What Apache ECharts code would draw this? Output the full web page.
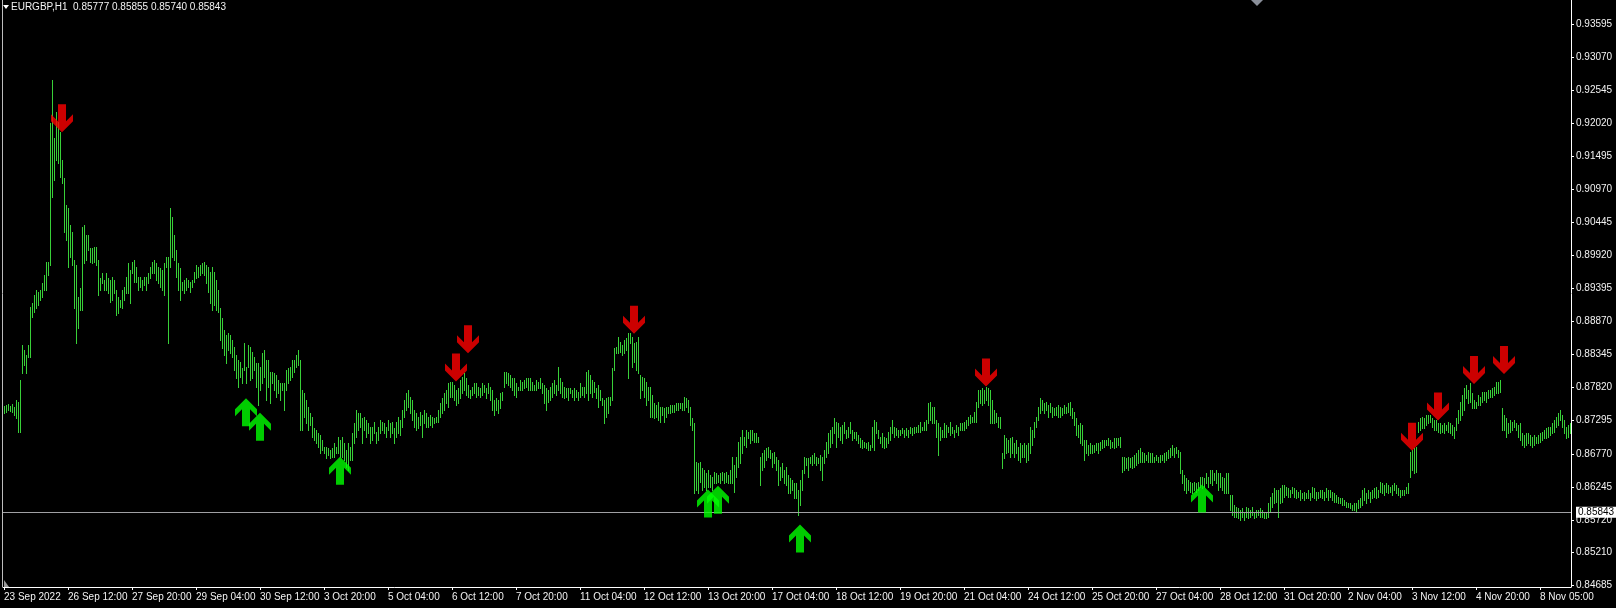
<!DOCTYPE html>
<html><head><meta charset="utf-8">
<script src="https://cdn.jsdelivr.net/npm/echarts@6/dist/echarts.min.js"></script>
<style>html,body{margin:0;padding:0;background:#000;}#c{width:1616px;height:608px;}</style>
</head><body><div id="c"></div>
<script>
const symbolName = 'EURGBP,H1';
const headerOHLC = ['0.85777', '0.85855', '0.85740', '0.85843'];
const bidPrice = 0.85843;
const labelEvery = 32;
const xTickLabels = ['23 Sep 2022','26 Sep 12:00','27 Sep 20:00','29 Sep 04:00','30 Sep 12:00','3 Oct 20:00','5 Oct 04:00','6 Oct 12:00','7 Oct 20:00','11 Oct 04:00','12 Oct 12:00','13 Oct 20:00','17 Oct 04:00','18 Oct 12:00','19 Oct 20:00','21 Oct 04:00','24 Oct 12:00','25 Oct 20:00','27 Oct 04:00','28 Oct 12:00','31 Oct 20:00','2 Nov 04:00','3 Nov 12:00','4 Nov 20:00','8 Nov 05:00'];
const yTicks = [0.93595,0.93070,0.92545,0.92020,0.91495,0.90970,0.90445,0.89920,0.89395,0.88870,0.88345,0.87820,0.87295,0.86770,0.86245,0.85720,0.85210,0.84685];

const highs = [
0.8753,0.8754,0.8756,0.8753,0.8756,0.8751,0.8762,0.8759,0.8794,0.8850,
0.8842,0.8834,0.8850,0.8910,0.8916,0.8929,0.8937,0.8934,0.8937,0.8948,
0.8961,0.8981,0.8981,0.9202,0.9271,0.9179,0.9220,0.9204,0.9188,0.9144,
0.9115,0.9072,0.9067,0.9040,0.9029,0.8985,0.8977,0.8926,0.8940,0.9037,
0.9040,0.9024,0.9024,0.9004,0.9004,0.9005,0.9005,0.8985,0.8956,0.8964,
0.8953,0.8964,0.8956,0.8953,0.8958,0.8953,0.8937,0.8926,0.8921,0.8937,
0.8942,0.8958,0.8980,0.8969,0.8981,0.8985,0.8974,0.8958,0.8958,0.8953,
0.8958,0.8958,0.8964,0.8974,0.8981,0.8985,0.8980,0.8974,0.8972,0.8969,
0.8980,0.8989,0.8989,0.9067,0.9053,0.9024,0.9001,0.8980,0.8972,0.8950,
0.8953,0.8956,0.8953,0.8950,0.8953,0.8966,0.8977,0.8974,0.8977,0.8980,
0.8981,0.8977,0.8974,0.8966,0.8974,0.8966,0.8953,0.8937,0.8908,0.8892,
0.8874,0.8866,0.8869,0.8866,0.8858,0.8846,0.8834,0.8826,0.8823,0.8813,
0.8853,0.8815,0.8850,0.8846,0.8838,0.8831,0.8821,0.8821,0.8815,0.8837,
0.8842,0.8826,0.8826,0.8807,0.8807,0.8805,0.8802,0.8794,0.8789,0.8789,
0.8789,0.8810,0.8813,0.8815,0.8826,0.8826,0.8834,0.8842,0.8826,0.8778,
0.8773,0.8762,0.8751,0.8742,0.8735,0.8718,0.8715,0.8710,0.8707,0.8699,
0.8688,0.8688,0.8686,0.8683,0.8686,0.8694,0.8688,0.8704,0.8699,0.8704,
0.8694,0.8683,0.8694,0.8688,0.8710,0.8726,0.8747,0.8742,0.8742,0.8734,
0.8735,0.8731,0.8726,0.8720,0.8720,0.8728,0.8712,0.8720,0.8731,0.8728,
0.8726,0.8720,0.8731,0.8726,0.8728,0.8718,0.8728,0.8735,0.8731,0.8747,
0.8762,0.8773,0.8778,0.8767,0.8762,0.8747,0.8742,0.8735,0.8743,0.8739,
0.8747,0.8742,0.8735,0.8739,0.8735,0.8734,0.8735,0.8747,0.8757,0.8765,
0.8773,0.8778,0.8789,0.8791,0.8791,0.8786,0.8778,0.8781,0.8794,0.8799,
0.8805,0.8797,0.8786,0.8778,0.8783,0.8789,0.8789,0.8783,0.8781,0.8789,
0.8786,0.8781,0.8789,0.8783,0.8778,0.8762,0.8765,0.8762,0.8773,0.8775,
0.8807,0.8807,0.8805,0.8802,0.8797,0.8797,0.8789,0.8783,0.8794,0.8791,
0.8794,0.8797,0.8797,0.8797,0.8791,0.8786,0.8794,0.8791,0.8797,0.8789,
0.8786,0.8781,0.8778,0.8783,0.8789,0.8794,0.8786,0.8815,0.8797,0.8791,
0.8783,0.8781,0.8781,0.8781,0.8778,0.8781,0.8778,0.8775,0.8789,0.8783,
0.8783,0.8807,0.8810,0.8802,0.8794,0.8791,0.8781,0.8786,0.8778,0.8765,
0.8762,0.8765,0.8767,0.8767,0.8813,0.8845,0.8846,0.8862,0.8854,0.8850,
0.8858,0.8861,0.8869,0.8869,0.8862,0.8853,0.8854,0.8862,0.8802,0.8799,
0.8797,0.8791,0.8783,0.8783,0.8770,0.8757,0.8754,0.8759,0.8751,0.8751,
0.8750,0.8751,0.8751,0.8754,0.8754,0.8754,0.8757,0.8757,0.8757,0.8757,
0.8767,0.8765,0.8762,0.8751,0.8734,0.8726,0.8664,0.8662,0.8664,0.8654,
0.8651,0.8646,0.8651,0.8643,0.8640,0.8648,0.8646,0.8643,0.8646,0.8648,
0.8646,0.8648,0.8643,0.8651,0.8672,0.8659,0.8672,0.8696,0.8704,0.8715,
0.8704,0.8715,0.8712,0.8715,0.8715,0.8710,0.8710,0.8704,0.8672,0.8678,
0.8683,0.8686,0.8688,0.8683,0.8678,0.8680,0.8672,0.8667,0.8656,0.8662,
0.8651,0.8656,0.8643,0.8638,0.8635,0.8630,0.8630,0.8620,0.8635,0.8651,
0.8672,0.8670,0.8670,0.8672,0.8675,0.8678,0.8672,0.8670,0.8675,0.8672,
0.8683,0.8696,0.8710,0.8715,0.8720,0.8734,0.8728,0.8726,0.8720,0.8723,
0.8728,0.8715,0.8720,0.8728,0.8715,0.8712,0.8712,0.8707,0.8702,0.8699,
0.8696,0.8694,0.8696,0.8691,0.8720,0.8731,0.8728,0.8715,0.8704,0.8710,
0.8704,0.8702,0.8712,0.8720,0.8731,0.8720,0.8718,0.8715,0.8715,0.8718,
0.8715,0.8718,0.8715,0.8720,0.8718,0.8720,0.8720,0.8723,0.8728,0.8720,
0.8728,0.8731,0.8757,0.8759,0.8751,0.8751,0.8731,0.8726,0.8720,0.8715,
0.8726,0.8723,0.8720,0.8728,0.8720,0.8715,0.8723,0.8720,0.8726,0.8726,
0.8728,0.8731,0.8735,0.8739,0.8735,0.8743,0.8759,0.8778,0.8778,0.8781,
0.8778,0.8783,0.8781,0.8778,0.8762,0.8747,0.8742,0.8735,0.8735,0.8678,
0.8707,0.8702,0.8699,0.8702,0.8704,0.8694,0.8699,0.8688,0.8694,0.8691,
0.8694,0.8691,0.8694,0.8720,0.8715,0.8728,0.8735,0.8751,0.8765,0.8762,
0.8757,0.8759,0.8754,0.8757,0.8751,0.8750,0.8751,0.8754,0.8751,0.8750,
0.8754,0.8751,0.8757,0.8759,0.8750,0.8743,0.8734,0.8723,0.8726,0.8723,
0.8699,0.8699,0.8691,0.8694,0.8691,0.8691,0.8694,0.8694,0.8696,0.8699,
0.8699,0.8699,0.8702,0.8699,0.8696,0.8702,0.8702,0.8702,0.8704,0.8672,
0.8672,0.8670,0.8672,0.8670,0.8672,0.8675,0.8678,0.8683,0.8686,0.8680,
0.8678,0.8675,0.8680,0.8678,0.8678,0.8672,0.8675,0.8672,0.8675,0.8675,
0.8678,0.8680,0.8683,0.8686,0.8691,0.8686,0.8688,0.8683,0.8680,0.8651,
0.8643,0.8638,0.8635,0.8632,0.8630,0.8632,0.8630,0.8632,0.8640,0.8640,
0.8638,0.8646,0.8640,0.8651,0.8651,0.8646,0.8651,0.8646,0.8646,0.8640,
0.8638,0.8646,0.8646,0.8612,0.8612,0.8596,0.8593,0.8591,0.8588,0.8591,
0.8585,0.8593,0.8591,0.8588,0.8593,0.8585,0.8588,0.8588,0.8591,0.8588,
0.8585,0.8585,0.8599,0.8608,0.8615,0.8623,0.8620,0.8620,0.8623,0.8627,
0.8627,0.8624,0.8623,0.8620,0.8624,0.8623,0.8620,0.8616,0.8620,0.8615,
0.8616,0.8615,0.8620,0.8615,0.8624,0.8623,0.8616,0.8616,0.8620,0.8620,
0.8616,0.8623,0.8620,0.8620,0.8616,0.8615,0.8612,0.8608,0.8607,0.8607,
0.8604,0.8600,0.8599,0.8599,0.8596,0.8599,0.8599,0.8604,0.8607,0.8620,
0.8623,0.8615,0.8620,0.8616,0.8620,0.8623,0.8624,0.8620,0.8632,0.8630,
0.8627,0.8630,0.8627,0.8624,0.8627,0.8630,0.8627,0.8623,0.8620,0.8620,
0.8620,0.8624,0.8630,0.8680,0.8683,0.8686,0.8688,0.8728,0.8734,0.8735,
0.8734,0.8739,0.8739,0.8739,0.8734,0.8731,0.8731,0.8726,0.8726,0.8723,
0.8726,0.8723,0.8728,0.8726,0.8723,0.8720,0.8734,0.8747,0.8759,0.8770,
0.8781,0.8786,0.8778,0.8789,0.8773,0.8762,0.8759,0.8770,0.8767,0.8775,
0.8775,0.8775,0.8778,0.8778,0.8781,0.8783,0.8791,0.8791,0.8794,0.8750,
0.8739,0.8734,0.8726,0.8731,0.8728,0.8731,0.8726,0.8723,0.8726,0.8710,
0.8707,0.8710,0.8710,0.8707,0.8704,0.8707,0.8704,0.8707,0.8710,0.8712,
0.8715,0.8718,0.8720,0.8720,0.8726,0.8731,0.8735,0.8742,0.8747,0.8739,
0.8731,0.8720,0.8723,0.8726
];

const lows = [
0.8742,0.8743,0.8747,0.8745,0.8743,0.8739,0.8734,0.8712,0.8712,0.8805,
0.8818,0.8805,0.8831,0.8831,0.8894,0.8902,0.8908,0.8913,0.8921,0.8926,
0.8937,0.8937,0.8961,0.8977,0.9085,0.9112,0.9144,0.9139,0.9117,0.9107,
0.9029,0.9017,0.8974,0.8989,0.8977,0.8908,0.8853,0.8877,0.8905,0.8905,
0.8980,0.8985,0.9001,0.8981,0.8980,0.8981,0.8977,0.8929,0.8937,0.8948,
0.8937,0.8937,0.8932,0.8918,0.8921,0.8932,0.8897,0.8900,0.8910,0.8908,
0.8921,0.8932,0.8932,0.8916,0.8964,0.8950,0.8950,0.8937,0.8942,0.8937,
0.8945,0.8937,0.8948,0.8956,0.8964,0.8964,0.8953,0.8948,0.8942,0.8937,
0.8929,0.8974,0.8853,0.8974,0.8989,0.8985,0.8958,0.8937,0.8921,0.8937,
0.8932,0.8937,0.8942,0.8934,0.8942,0.8950,0.8956,0.8958,0.8961,0.8964,
0.8961,0.8948,0.8934,0.8916,0.8905,0.8913,0.8905,0.8902,0.8858,0.8845,
0.8834,0.8821,0.8842,0.8837,0.8831,0.8810,0.8797,0.8783,0.8799,0.8789,
0.8810,0.8789,0.8815,0.8794,0.8797,0.8810,0.8783,0.8754,0.8778,0.8789,
0.8799,0.8762,0.8783,0.8757,0.8789,0.8778,0.8767,0.8773,0.8762,0.8778,
0.8747,0.8778,0.8789,0.8794,0.8799,0.8807,0.8815,0.8818,0.8715,0.8715,
0.8735,0.8726,0.8715,0.8723,0.8704,0.8699,0.8694,0.8688,0.8678,0.8683,
0.8678,0.8670,0.8675,0.8670,0.8672,0.8672,0.8678,0.8678,0.8672,0.8672,
0.8667,0.8656,0.8651,0.8667,0.8667,0.8694,0.8704,0.8715,0.8720,0.8694,
0.8715,0.8704,0.8710,0.8694,0.8699,0.8710,0.8694,0.8699,0.8710,0.8715,
0.8710,0.8704,0.8715,0.8704,0.8710,0.8694,0.8704,0.8710,0.8707,0.8720,
0.8735,0.8747,0.8751,0.8742,0.8731,0.8720,0.8715,0.8718,0.8723,0.8704,
0.8726,0.8720,0.8720,0.8723,0.8720,0.8726,0.8728,0.8728,0.8735,0.8742,
0.8747,0.8757,0.8751,0.8767,0.8767,0.8762,0.8754,0.8757,0.8765,0.8773,
0.8778,0.8770,0.8767,0.8765,0.8770,0.8773,0.8767,0.8770,0.8767,0.8770,
0.8775,0.8765,0.8773,0.8762,0.8747,0.8739,0.8747,0.8742,0.8750,0.8762,
0.8783,0.8789,0.8786,0.8783,0.8778,0.8770,0.8767,0.8778,0.8778,0.8778,
0.8781,0.8783,0.8778,0.8778,0.8778,0.8778,0.8778,0.8781,0.8781,0.8773,
0.8757,0.8747,0.8759,0.8762,0.8767,0.8773,0.8770,0.8778,0.8773,0.8767,
0.8765,0.8767,0.8762,0.8773,0.8767,0.8762,0.8767,0.8762,0.8767,0.8770,
0.8767,0.8773,0.8762,0.8773,0.8767,0.8775,0.8765,0.8751,0.8762,0.8754,
0.8726,0.8735,0.8742,0.8754,0.8762,0.8810,0.8837,0.8837,0.8838,0.8834,
0.8837,0.8842,0.8797,0.8853,0.8815,0.8823,0.8810,0.8805,0.8765,0.8778,
0.8767,0.8754,0.8762,0.8735,0.8735,0.8734,0.8735,0.8731,0.8728,0.8739,
0.8728,0.8735,0.8742,0.8742,0.8743,0.8743,0.8747,0.8747,0.8750,0.8747,
0.8747,0.8751,0.8743,0.8723,0.8715,0.8615,0.8620,0.8615,0.8632,0.8620,
0.8624,0.8620,0.8624,0.8624,0.8620,0.8630,0.8630,0.8632,0.8630,0.8635,
0.8630,0.8632,0.8630,0.8630,0.8630,0.8616,0.8640,0.8656,0.8662,0.8678,
0.8691,0.8688,0.8702,0.8694,0.8699,0.8696,0.8696,0.8696,0.8627,0.8651,
0.8656,0.8667,0.8672,0.8670,0.8656,0.8662,0.8651,0.8627,0.8635,0.8640,
0.8630,0.8627,0.8615,0.8615,0.8620,0.8607,0.8607,0.8580,0.8596,0.8620,
0.8646,0.8659,0.8640,0.8662,0.8659,0.8662,0.8659,0.8662,0.8651,0.8635,
0.8662,0.8672,0.8678,0.8688,0.8694,0.8710,0.8688,0.8704,0.8699,0.8694,
0.8710,0.8702,0.8704,0.8710,0.8699,0.8702,0.8699,0.8694,0.8688,0.8686,
0.8688,0.8686,0.8683,0.8683,0.8688,0.8683,0.8710,0.8702,0.8694,0.8688,
0.8686,0.8688,0.8694,0.8699,0.8710,0.8704,0.8707,0.8704,0.8707,0.8710,
0.8704,0.8707,0.8704,0.8710,0.8707,0.8710,0.8712,0.8712,0.8712,0.8715,
0.8715,0.8715,0.8726,0.8731,0.8726,0.8726,0.8704,0.8675,0.8699,0.8704,
0.8704,0.8704,0.8712,0.8707,0.8710,0.8704,0.8712,0.8707,0.8715,0.8715,
0.8715,0.8718,0.8723,0.8726,0.8728,0.8728,0.8728,0.8751,0.8757,0.8754,
0.8757,0.8762,0.8754,0.8726,0.8726,0.8726,0.8728,0.8720,0.8718,0.8654,
0.8670,0.8678,0.8680,0.8672,0.8678,0.8672,0.8678,0.8667,0.8664,0.8672,
0.8672,0.8664,0.8667,0.8678,0.8691,0.8704,0.8720,0.8731,0.8742,0.8747,
0.8742,0.8747,0.8735,0.8743,0.8735,0.8739,0.8739,0.8735,0.8735,0.8739,
0.8742,0.8742,0.8743,0.8739,0.8734,0.8723,0.8707,0.8704,0.8694,0.8691,
0.8667,0.8678,0.8675,0.8678,0.8678,0.8680,0.8683,0.8678,0.8683,0.8686,
0.8688,0.8691,0.8691,0.8686,0.8688,0.8686,0.8688,0.8691,0.8688,0.8648,
0.8651,0.8654,0.8651,0.8656,0.8654,0.8656,0.8659,0.8662,0.8664,0.8664,
0.8664,0.8667,0.8664,0.8664,0.8664,0.8664,0.8667,0.8664,0.8664,0.8667,
0.8664,0.8667,0.8670,0.8672,0.8675,0.8672,0.8678,0.8672,0.8646,0.8630,
0.8620,0.8615,0.8620,0.8616,0.8615,0.8620,0.8616,0.8620,0.8624,0.8623,
0.8624,0.8630,0.8624,0.8630,0.8627,0.8635,0.8630,0.8620,0.8624,0.8620,
0.8615,0.8615,0.8615,0.8588,0.8580,0.8577,0.8577,0.8575,0.8572,0.8577,
0.8572,0.8577,0.8575,0.8577,0.8580,0.8575,0.8577,0.8580,0.8577,0.8577,
0.8575,0.8575,0.8577,0.8585,0.8593,0.8599,0.8600,0.8577,0.8599,0.8600,
0.8608,0.8612,0.8608,0.8608,0.8615,0.8608,0.8607,0.8608,0.8604,0.8607,
0.8604,0.8607,0.8607,0.8604,0.8608,0.8607,0.8604,0.8607,0.8608,0.8607,
0.8604,0.8608,0.8604,0.8608,0.8604,0.8600,0.8600,0.8599,0.8599,0.8596,
0.8596,0.8593,0.8593,0.8591,0.8588,0.8588,0.8585,0.8591,0.8593,0.8596,
0.8604,0.8599,0.8607,0.8600,0.8607,0.8608,0.8607,0.8608,0.8616,0.8615,
0.8612,0.8616,0.8615,0.8616,0.8612,0.8620,0.8615,0.8612,0.8608,0.8612,
0.8612,0.8615,0.8615,0.8640,0.8651,0.8646,0.8648,0.8712,0.8715,0.8718,
0.8718,0.8723,0.8726,0.8728,0.8720,0.8715,0.8715,0.8712,0.8710,0.8712,
0.8710,0.8715,0.8712,0.8710,0.8707,0.8702,0.8715,0.8726,0.8731,0.8739,
0.8747,0.8765,0.8757,0.8759,0.8750,0.8750,0.8750,0.8754,0.8754,0.8759,
0.8762,0.8759,0.8765,0.8767,0.8767,0.8770,0.8773,0.8773,0.8775,0.8715,
0.8715,0.8704,0.8710,0.8712,0.8715,0.8720,0.8715,0.8704,0.8699,0.8691,
0.8688,0.8691,0.8694,0.8691,0.8688,0.8691,0.8694,0.8694,0.8696,0.8699,
0.8702,0.8702,0.8704,0.8707,0.8710,0.8712,0.8720,0.8723,0.8731,0.8720,
0.8710,0.8702,0.8704,0.8710
];

// [bar index, price] of the signal arrows
const sellArrows = [[29,0.9210],[226,0.8814],[232,0.8859],[315,0.8890],[491,0.8806],[704,0.8704],[717,0.8752],[735,0.8810],[750,0.8826]];
const buyArrows = [[121,0.8743],[128,0.8720],[168,0.8650],[352,0.8598],[357,0.8604],[398,0.85425],[599,0.8606]];

const categories = highs.map((_, i) => String(i));
const barData = highs.map((h, i) => [i, h, lows[i]]);

const FONT = '"Liberation Sans", Arial, sans-serif';
const TEXT = '#f2f2f2';
const DOWN_ARROW = 'path://M7,0 L15,0 L15,17 L22,10 L22,17 L11,28 L0,17 L0,10 L7,17 Z';
const UP_ARROW = 'path://M11,0 L22,11 L22,18 L15,11 L15,28 L7,28 L7,11 L0,18 L0,11 Z';

const chart = echarts.init(document.getElementById('c'), null, { renderer: 'canvas' });
chart.setOption({
  backgroundColor: '#000000',
  animation: false,
  grid: { left: 3, right: 45, top: 0, bottom: 21, containLabel: false },
  xAxis: {
    type: 'category',
    data: categories,
    boundaryGap: true,
    axisLine: { show: true, lineStyle: { color: '#ffffff', width: 1 } },
    axisTick: { show: true, alignWithLabel: true, length: 3, interval: (i) => i % labelEvery === 0, lineStyle: { color: '#ffffff' } },
    axisLabel: {
      interval: (i) => i % labelEvery === 0,
      formatter: (v) => xTickLabels[Number(v) / labelEvery] || '',
      align: 'left', verticalAlign: 'top', margin: 5,
      color: TEXT, fontSize: 10, fontFamily: FONT
    },
    splitLine: { show: false }
  },
  yAxis: {
    type: 'value', position: 'right',
    min: 0.84654, max: 0.93976,
    axisLine: { show: true, lineStyle: { color: '#ffffff', width: 1 } },
    axisTick: { show: true, length: 3, customValues: yTicks, lineStyle: { color: '#ffffff' } },
    axisLabel: { customValues: yTicks, formatter: (v) => v.toFixed(5), color: TEXT, fontSize: 10, fontFamily: FONT, margin: 5 },
    splitLine: { show: false }
  },
  series: [
    {
      type: 'custom',
      name: 'bars',
      data: barData,
      encode: { x: 0, y: [1, 2] },
      renderItem: function (params, api) {
        const top = api.coord([api.value(0), api.value(1)]);
        const bot = api.coord([api.value(0), api.value(2)]);
        const x = Math.round(top[0]) + 0.5;
        return {
          type: 'line',
          shape: { x1: x, y1: Math.round(top[1]), x2: x, y2: Math.round(bot[1]) + 1 },
          style: { stroke: '#38d038', lineWidth: 1 }
        };
      },
      silent: true,
      z: 2
    },
    {
      type: 'scatter', name: 'sell', data: sellArrows,
      symbol: DOWN_ARROW, symbolSize: [22, 28],
      itemStyle: { color: '#ff0000' }, silent: true, z: 5
    },
    {
      type: 'scatter', name: 'buy', data: buyArrows,
      symbol: UP_ARROW, symbolSize: [22, 28],
      itemStyle: { color: '#00ff00' }, silent: true, z: 5,
      markLine: {
        silent: true, symbol: ['none', 'none'], animation: false, precision: 5,
        lineStyle: { color: '#a0a0a4', width: 1, type: 'solid' },
        label: {
          show: true, position: 'end', distance: 5,
          formatter: () => bidPrice.toFixed(5),
          backgroundColor: '#ffffff', color: '#000000',
          fontSize: 10, fontFamily: FONT, padding: [1, 2, 0, 2]
        },
        data: [{ yAxis: bidPrice }]
      }
    }
  ],
  graphic: [
    { type: 'line', shape: { x1: 2.5, y1: 0, x2: 2.5, y2: 587 }, style: { stroke: '#bdbdbd', lineWidth: 1 }, silent: true },
    { type: 'polygon', shape: { points: [[3, 5], [9, 5], [6, 9]] }, style: { fill: '#ffffff' }, silent: true },
    { type: 'text', x: 11, y: 2, style: { text: symbolName + '  ' + headerOHLC.join(' '), fill: TEXT, font: '10px ' + FONT }, silent: true },
    { type: 'polygon', shape: { points: [[1251, 0], [1263, 0], [1257, 6]] }, style: { fill: '#8a8f9a' }, silent: true },
    { type: 'polygon', shape: { points: [[4, 580], [4, 587], [9, 587]] }, style: { fill: '#9a9a9a' }, silent: true }
  ]
});
</script>
</body></html>
